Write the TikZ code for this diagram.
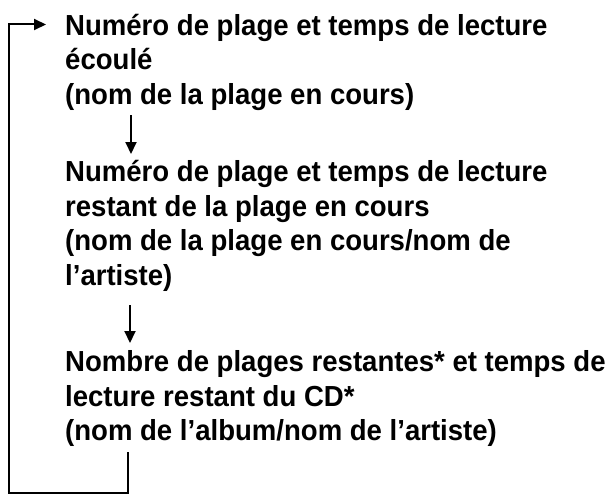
\documentclass[tikz,border=0pt]{standalone}
\usepackage{fontspec}
\setmainfont[FakeStretch=0.95]{Liberation Sans}
\usetikzlibrary{arrows.meta,calc,positioning}

\begin{document}
\begin{tikzpicture}[x=1pt,y=-1pt,
		txt/.style={anchor=base west,align=left,inner sep=0pt,font=\fontsize{29}{34.5}\selectfont\bfseries},
		arr/.style={line width=2pt,-{Triangle[length=12pt,width=11pt]}}]
		\useasboundingbox (0,0) rectangle (609,495);
		% base west = baseline of the last line
		\node[txt] (one) at (65,104) {Numéro de plage et temps de lecture\\écoulé\\(nom de la plage en cours)};
		\node[txt] (two) at (65,285) {Numéro de plage et temps de lecture\\restant de la plage en cours\\(nom de la plage en cours/nom de\\l’artiste)};
		\node[txt] (three) at (65,440.5) {Nombre de plages restantes* et temps de\\lecture restant du CD*\\(nom de l’album/nom de l’artiste)};
		\coordinate (loop) at (8.5,492.5);
		\draw[arr] ([xshift=66pt,yshift=-11pt]one.base west) -- ([xshift=66pt,yshift=131pt]two.base west);
		\draw[arr] ([xshift=65pt,yshift=-20pt]two.base west) -- ([xshift=65pt,yshift=97.5pt]three.base west);
		\draw[arr,line cap=rect] ([xshift=63pt,yshift=-12.5pt]three.base west) |- (loop) |- ([xshift=-19pt,yshift=79.5pt]one.base west);
		\end{tikzpicture}
\end{document}
